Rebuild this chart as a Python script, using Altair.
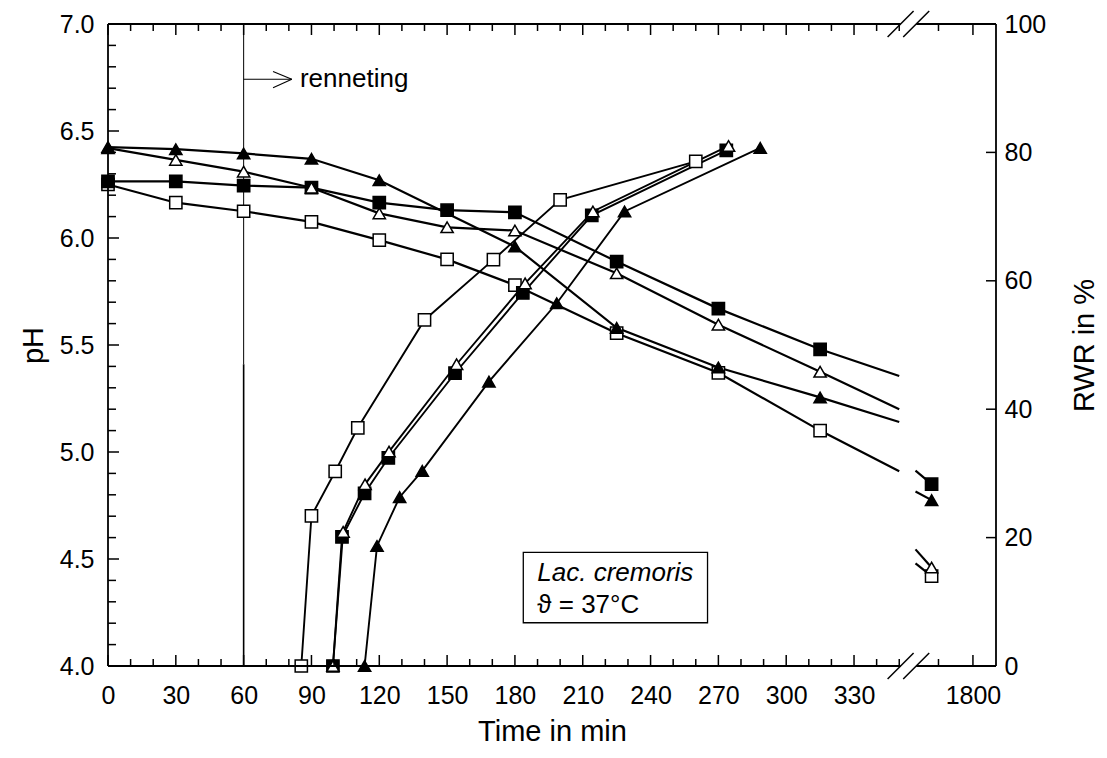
import altair as alt
import pandas as pd

FONT = "Liberation Sans"
W, H = 888, 642

# ---------------- data ----------------
SERIES = ["os", "fs", "ot", "ft"]          # open square, filled square, open triangle, filled triangle
SHAPES = ["square", "square", "triangle-up", "triangle-up"]
FILLS = ["white", "black", "white", "black"]
SIZES = [150, 150, 230, 230]

# pH curves (left axis)
PH_T_OS = [0, 30, 60, 90, 120, 150, 180, 225, 270, 315]
PH_OS = [6.25, 6.165, 6.125, 6.075, 5.99, 5.90, 5.78, 5.555, 5.37, 5.10]
PH_T_FS = [0, 30, 60, 90, 120, 150, 180, 225, 270, 315]
PH_FS = [6.265, 6.265, 6.245, 6.235, 6.165, 6.13, 6.12, 5.89, 5.67, 5.48]
PH_T_OT = [0, 30, 60, 90, 120, 150, 180, 225, 270, 315]
PH_OT = [6.42, 6.365, 6.31, 6.235, 6.115, 6.05, 6.035, 5.835, 5.595, 5.375]
PH_T_FT = [0, 30, 60, 90, 120, 180, 225, 270, 315]
PH_FT = [6.425, 6.415, 6.395, 6.37, 6.27, 5.96, 5.58, 5.395, 5.255]

# where the pH lines meet the axis break (before / after) and the last reading
PH_AT_BREAK = [4.91, 5.355, 5.20, 5.14]
PH_AFTER_BREAK = [4.48, 4.913, 4.545, 4.815]
PH_FINAL = [4.42, 4.85, 4.46, 4.775]
FINAL_TIME = 1440

# RWR curves (right axis)
RWR_T_OS = [85.5, 90, 100.5, 110.5, 140, 170.5, 200, 260]
RWR_OS = [0, 23.4, 30.3, 37.1, 53.9, 63.3, 72.6, 78.6]
RWR_T_FS = [99.5, 103.5, 113.5, 124, 153.5, 183.5, 214, 273.5]
RWR_FS = [0, 20.1, 26.9, 32.4, 45.6, 58.1, 70.2, 80.3]
RWR_T_OT = [99.5, 104, 113.7, 124.3, 154.2, 184.5, 214.5, 274.5]
RWR_OT = [0, 20.9, 28.3, 33.4, 47.0, 59.6, 70.8, 81.0]
RWR_T_FT = [113.5, 119, 129, 139, 168.5, 198.5, 228.5, 288.5]
RWR_FT = [0, 18.7, 26.3, 30.4, 44.3, 56.5, 70.8, 80.7]

# axes
X_MAJOR = [0, 30, 60, 90, 120, 150, 180, 210, 240, 270, 300, 330, 1800]
X_MINOR = [10, 20, 40, 50, 70, 80, 100, 110, 130, 140, 160, 170, 190, 200,
           220, 230, 250, 260, 280, 290, 310, 320, 340, 350, 1500]
PH_MAJOR = [4.0, 4.5, 5.0, 5.5, 6.0, 6.5, 7.0]
PH_MINOR = [round(4.0 + 0.1 * i, 1) for i in range(31) if i % 5 != 0]
RWR_MAJOR = [0, 20, 40, 60, 80, 100]

# broken time axis
BREAK_T = 350
AFTER_T = 1300
AFTER_POS = 357.2
POST_SCALE = 0.0508
X_MAX = 392.8
SLASHES = [350.6, 357.5]

# annotations
RENNET_T = 60
ARROW_PH = 6.742
BOX = dict(t1=183.7, t2=265.2, ph1=4.531, ph2=4.202)
BOX_TEXT = ["Lac. cremoris", "\u03d1 = 37\u00b0C"]
BOX_TEXT_PH = [4.433, 4.285]
BOX_TEXT_T = 189.9

LABEL_FS = 25
TITLE_FS = 29
ANNOT_FS = 26


def pos(t):
    return t if t <= BREAK_T else AFTER_POS + (t - AFTER_T) * POST_SCALE


# ---------------- build tables ----------------
ph_t = [PH_T_OS, PH_T_FS, PH_T_OT, PH_T_FT]
ph_v = [PH_OS, PH_FS, PH_OT, PH_FT]
rwr_t = [RWR_T_OS, RWR_T_FS, RWR_T_OT, RWR_T_FT]
rwr_v = [RWR_OS, RWR_FS, RWR_OT, RWR_FT]

ph_line_rows, ph_pt_rows, rwr_line_rows, rwr_pt_rows = [], [], [], []
for i, s in enumerate(SERIES):
    for t, v in zip(ph_t[i], ph_v[i]):
        ph_line_rows.append(dict(p=pos(t), v=v, s=s, g=s + "a"))
        ph_pt_rows.append(dict(p=pos(t), v=v, s=s))
    ph_line_rows.append(dict(p=pos(BREAK_T), v=PH_AT_BREAK[i], s=s, g=s + "a"))
    ph_line_rows.append(dict(p=pos(AFTER_T), v=PH_AFTER_BREAK[i], s=s, g=s + "b"))
    ph_line_rows.append(dict(p=pos(FINAL_TIME), v=PH_FINAL[i], s=s, g=s + "b"))
    ph_pt_rows.append(dict(p=pos(FINAL_TIME), v=PH_FINAL[i], s=s))
    for t, v in zip(rwr_t[i], rwr_v[i]):
        rwr_line_rows.append(dict(p=pos(t), v=v, s=s, g=s))
        rwr_pt_rows.append(dict(p=pos(t), v=v, s=s))

ph_lines = pd.DataFrame(ph_line_rows)
ph_pts = pd.DataFrame(ph_pt_rows)
rwr_lines = pd.DataFrame(rwr_line_rows)
rwr_pts = pd.DataFrame(rwr_pt_rows)

XS = alt.Scale(domain=[0, X_MAX], nice=False, zero=False)
YPH = alt.Scale(domain=[4, 7], nice=False, zero=False)
YR = alt.Scale(domain=[0, 100], nice=False, zero=False)

X_AXIS = alt.Axis(
    values=[pos(t) for t in X_MAJOR],
    labelExpr=f"datum.value > {BREAK_T + 5} ? '{X_MAJOR[-1]}' : format(datum.value, 'd')",
    title="Time in min", orient="bottom", domain=False, ticks=False, grid=False,
    tickSize=0, labelPadding=17, labelFontSize=LABEL_FS, titleFontSize=TITLE_FS, titlePadding=9,
    labelFont=FONT, titleFont=FONT, labelColor="black", titleColor="black",
    titleFontWeight="normal", labelFlush=False, labelOverlap=False)
YL_AXIS = alt.Axis(
    values=PH_MAJOR, format=".1f", title="pH", orient="left", domain=False,
    ticks=False, grid=False, tickSize=0, labelPadding=14, labelFontSize=LABEL_FS,
    titleFontSize=TITLE_FS, titlePadding=11, labelFont=FONT, titleFont=FONT,
    labelColor="black", titleColor="black", titleFontWeight="normal",
    labelFlush=False, labelOverlap=False)
YR_AXIS = alt.Axis(
    values=RWR_MAJOR, format="d", title="RWR in %", orient="right", domain=False,
    ticks=False, grid=False, tickSize=0, labelPadding=8, labelFontSize=LABEL_FS,
    titleFontSize=TITLE_FS, titlePadding=25, titleAngle=270, titleBaseline="top",
    labelFont=FONT, titleFont=FONT, labelColor="black", titleColor="black",
    titleFontWeight="normal", labelFlush=False, labelOverlap=False)


def X(field):
    return alt.X(field, scale=XS, axis=X_AXIS)


def YP(field, axis=None):
    return alt.Y(field, scale=YPH, axis=axis)


def YW(field, axis=None):
    return alt.Y(field, scale=YR, axis=axis)


one = pd.DataFrame({"a": [0]})
LW = 1.8

frame_l = alt.Chart(one).mark_rule(color="black", strokeWidth=LW).encode(
    x=alt.value(0), y=alt.value(0), y2=alt.value(H))
frame_r = alt.Chart(one).mark_rule(color="black", strokeWidth=LW).encode(
    x=alt.value(W), y=alt.value(0), y2=alt.value(H))
segs = pd.DataFrame({"a": [0, SLASHES[1]], "b": [SLASHES[0], X_MAX]})
frame_b = alt.Chart(segs).mark_rule(color="black", strokeWidth=LW).encode(
    x=X("a:Q"), x2="b:Q", y=alt.value(H))
frame_t = alt.Chart(segs).mark_rule(color="black", strokeWidth=LW).encode(
    x=X("a:Q"), x2="b:Q", y=alt.value(0))

sl = pd.DataFrame({"x1": [c - 5.75 for c in SLASHES], "x2": [c + 5.75 for c in SLASHES]})
slash_b = alt.Chart(sl).mark_rule(color="black", strokeWidth=1.5).encode(
    x=X("x1:Q"), x2="x2:Q", y=alt.value(H + 13), y2=alt.value(H - 13))
slash_t = alt.Chart(sl).mark_rule(color="black", strokeWidth=1.5).encode(
    x=X("x1:Q"), x2="x2:Q", y=alt.value(13), y2=alt.value(-13))

xmaj = pd.DataFrame({"p": [pos(t) for t in X_MAJOR]})
xmin = pd.DataFrame({"p": [pos(t) for t in X_MINOR]})


def xticks(df, y0, y1):
    return alt.Chart(df).mark_rule(color="black", strokeWidth=1.5).encode(
        x=X("p:Q"), y=alt.value(y0), y2=alt.value(y1))


tick_layers = [xticks(xmaj, H, H - 11), xticks(xmin, H, H - 7),
               xticks(xmaj, 0, 11), xticks(xmin, 0, 7)]

ymaj = pd.DataFrame({"v": PH_MAJOR})
ymin = pd.DataFrame({"v": PH_MINOR})
tick_layers.append(alt.Chart(ymaj).mark_rule(color="black", strokeWidth=1.5).encode(
    y=YP("v:Q"), x=alt.value(0), x2=alt.value(11)))
tick_layers.append(alt.Chart(ymin).mark_rule(color="black", strokeWidth=1.5).encode(
    y=YP("v:Q"), x=alt.value(0), x2=alt.value(8)))
rmaj = pd.DataFrame({"v": RWR_MAJOR})
tick_layers.append(alt.Chart(rmaj).mark_rule(color="black", strokeWidth=1.5).encode(
    y=YW("v:Q"), x=alt.value(W), x2=alt.value(W - 10)))

# renneting marker
ren_a = pd.DataFrame({"t": [RENNET_T], "y1": [7.0], "y2": [5.41]})
ren_b = pd.DataFrame({"t": [RENNET_T], "y1": [5.41], "y2": [4.0]})
ren_up = alt.Chart(ren_a).mark_rule(color="black", strokeWidth=1.0).encode(
    x=X("t:Q"), y=YP("y1:Q"), y2="y2:Q")
ren_lo = alt.Chart(ren_b).mark_rule(color="black", strokeWidth=1.6).encode(
    x=X("t:Q"), y=YP("y1:Q"), y2="y2:Q")
arrow = pd.DataFrame({
    "x1": [RENNET_T, 73.0, 73.0],
    "x2": [81.3, 81.3, 81.3],
    "y1": [ARROW_PH, ARROW_PH + 0.036, ARROW_PH - 0.040],
    "y2": [ARROW_PH, ARROW_PH, ARROW_PH]})
arrow_l = alt.Chart(arrow).mark_rule(color="black", strokeWidth=1.1).encode(
    x=X("x1:Q"), x2="x2:Q", y=YP("y1:Q"), y2="y2:Q")
ren_txt = alt.Chart(pd.DataFrame({"t": [84.9], "v": [ARROW_PH], "txt": ["renneting"]})).mark_text(
    align="left", baseline="middle", font=FONT, fontSize=ANNOT_FS, color="black").encode(
    x=X("t:Q"), y=YP("v:Q"), text="txt:N")

box = alt.Chart(pd.DataFrame([BOX])).mark_rect(fill="white", stroke="black", strokeWidth=1.3).encode(
    x=X("t1:Q"), x2="t2:Q", y=YP("ph1:Q"), y2="ph2:Q")
bt1 = alt.Chart(pd.DataFrame({"t": [BOX_TEXT_T], "v": [BOX_TEXT_PH[0]], "txt": [BOX_TEXT[0]]})).mark_text(
    align="left", baseline="middle", font=FONT, fontSize=ANNOT_FS, fontStyle="italic", color="black").encode(
    x=X("t:Q"), y=YP("v:Q"), text="txt:N")
bt2 = alt.Chart(pd.DataFrame({"t": [BOX_TEXT_T], "v": [BOX_TEXT_PH[1]], "txt": [BOX_TEXT[1]]})).mark_text(
    align="left", baseline="middle", font=FONT, fontSize=ANNOT_FS, color="black").encode(
    x=X("t:Q"), y=YP("v:Q"), text="txt:N")

shape_enc = alt.Shape("s:N", scale=alt.Scale(domain=SERIES, range=SHAPES), legend=None)
fill_enc = alt.Fill("s:N", scale=alt.Scale(domain=SERIES, range=FILLS), legend=None)
size_enc = alt.Size("s:N", scale=alt.Scale(domain=SERIES, range=SIZES), legend=None)

ph_line_l = alt.Chart(ph_lines).mark_line(color="black", strokeWidth=2.2).encode(
    x=X("p:Q"), y=YP("v:Q", YL_AXIS), detail="g:N", order="p:Q")
rwr_line_l = alt.Chart(rwr_lines).mark_line(color="black", strokeWidth=1.9).encode(
    x=X("p:Q"), y=YW("v:Q", YR_AXIS), detail="g:N", order="p:Q")
ph_pt_l = alt.Chart(ph_pts).mark_point(filled=True, stroke="black", strokeWidth=1.5, opacity=1).encode(
    x=X("p:Q"), y=YP("v:Q"), shape=shape_enc, fill=fill_enc, size=size_enc)
rwr_pt_l = alt.Chart(rwr_pts).mark_point(filled=True, stroke="black", strokeWidth=1.5, opacity=1).encode(
    x=X("p:Q"), y=YW("v:Q"), shape=shape_enc, fill=fill_enc, size=size_enc)

chart = alt.layer(
    ph_line_l, rwr_line_l,
    ren_up, ren_lo, arrow_l, ren_txt,
    ph_pt_l, rwr_pt_l,
    box, bt1, bt2,
    frame_l, frame_r, frame_b, frame_t, slash_b, slash_t, *tick_layers,
).resolve_scale(y="independent").properties(
    width=W, height=H,
    padding={"left": 108, "top": 24, "right": 1107 - 108 - W, "bottom": 758 - 24 - H},
    autosize=alt.AutoSizeParams(type="none"),
).configure_view(stroke=None)

chart.save("out.html", embed_options={"renderer": "svg", "actions": False})
